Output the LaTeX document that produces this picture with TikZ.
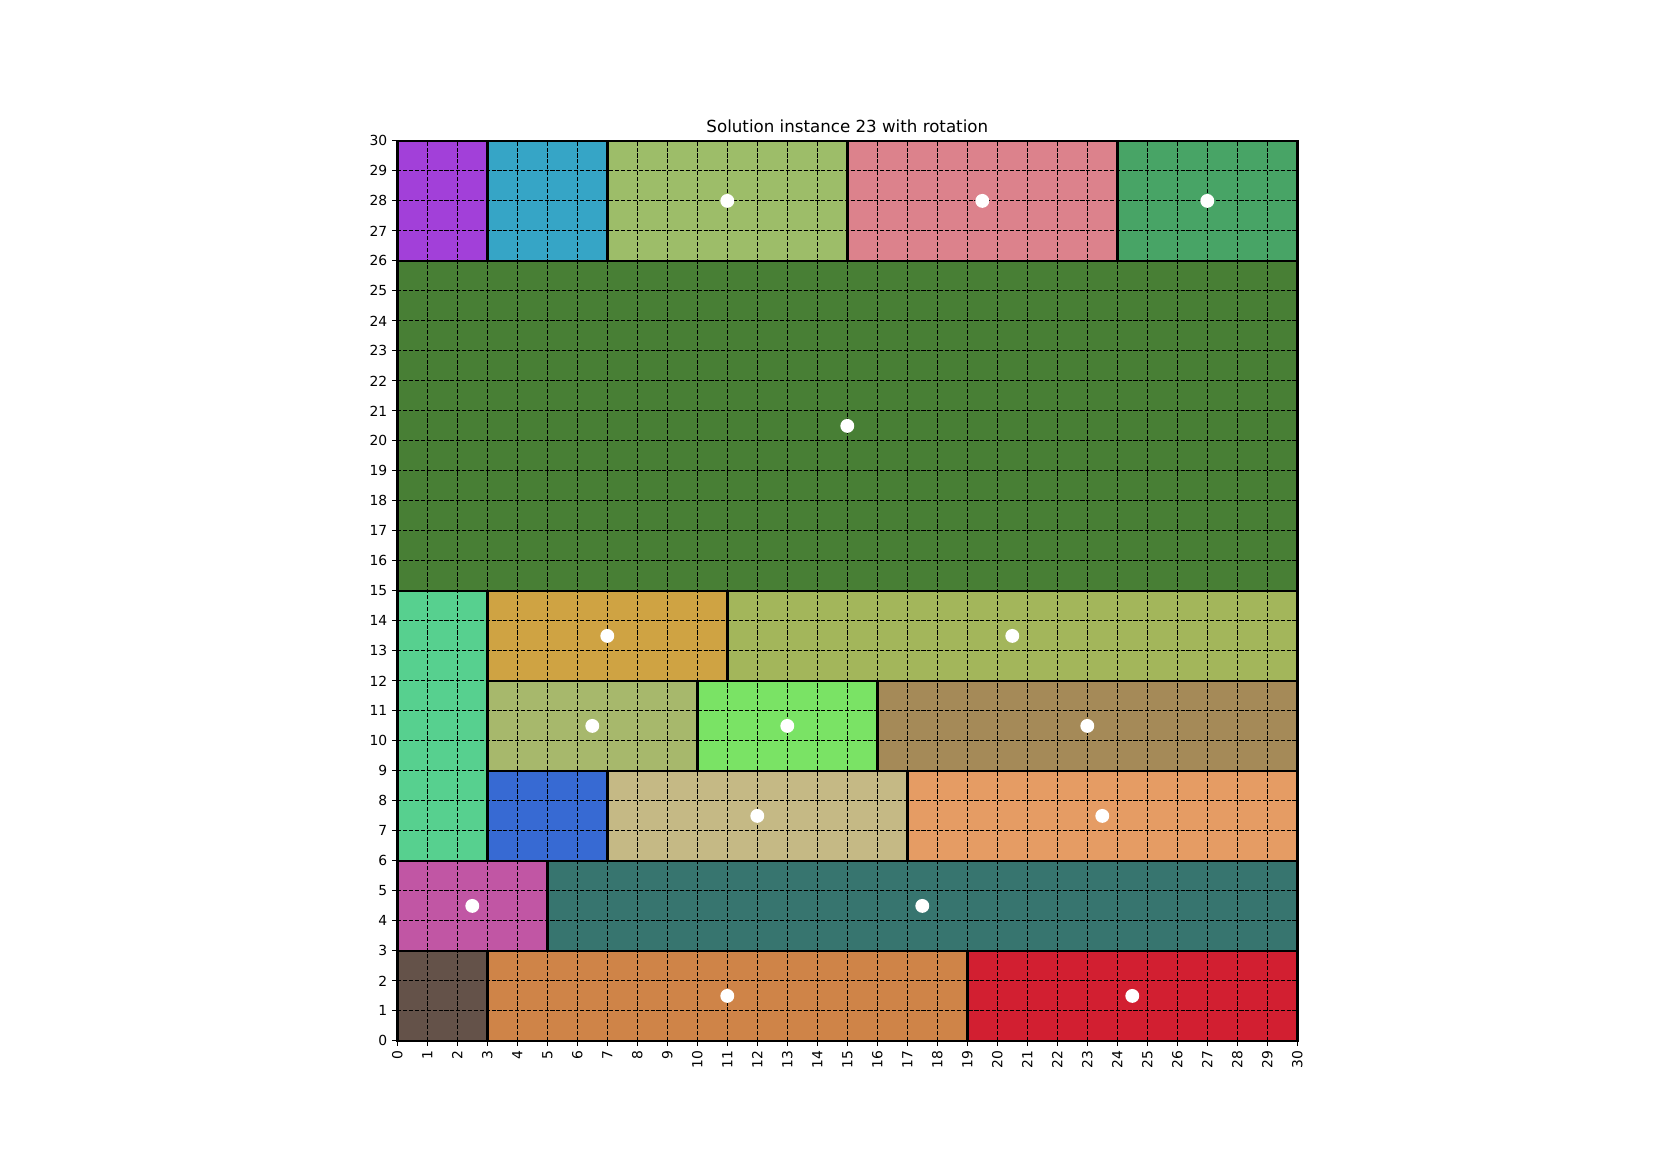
\documentclass[tikz,border=0pt]{standalone}
\usepackage{fontspec}
\setmainfont{DejaVu Sans}
\definecolor{cA}{HTML}{A240D9}
\definecolor{cB}{HTML}{36A5C6}
\definecolor{cC}{HTML}{9DBD69}
\definecolor{cD}{HTML}{DC828C}
\definecolor{cE}{HTML}{48A466}
\definecolor{cF}{HTML}{487F35}
\definecolor{cG}{HTML}{57D08F}
\definecolor{cH}{HTML}{CFA343}
\definecolor{cI}{HTML}{A3B65B}
\definecolor{cJ}{HTML}{A7B86C}
\definecolor{cK}{HTML}{7AE365}
\definecolor{cL}{HTML}{A58A58}
\definecolor{cM}{HTML}{376AD3}
\definecolor{cN}{HTML}{C5B985}
\definecolor{cO}{HTML}{E59C64}
\definecolor{cP}{HTML}{C156A4}
\definecolor{cQ}{HTML}{37756F}
\definecolor{cR}{HTML}{645249}
\definecolor{cS}{HTML}{CF8448}
\definecolor{cT}{HTML}{D21F31}
\begin{document}
\begin{tikzpicture}[x=21.6pt,y=21.6pt,
  box/.style={draw=black,line width=2pt},
  gridline/.style={black,line width=0.8pt,dash pattern=on 2.96pt off 1.28pt},
  centerdot/.style={circle,fill=white,draw=none,inner sep=0pt,minimum size=10pt},
  tickmark/.style={black,line width=0.8pt},
  lab/.style={font=\fontsize{10}{12}\selectfont,inner sep=0pt},
  ttl/.style={font=\fontsize{12}{14}\selectfont,inner sep=0pt}]
\useasboundingbox (-13.243,-4.27) rectangle (41.857,34.697);
% fills
\foreach \x/\y/\w/\h/\c in {0/26/3/4/cA,3/26/4/4/cB,7/26/8/4/cC,15/26/9/4/cD,24/26/6/4/cE,
  0/15/30/11/cF,0/6/3/9/cG,3/12/8/3/cH,11/12/19/3/cI,3/9/7/3/cJ,10/9/6/3/cK,16/9/14/3/cL,
  3/6/4/3/cM,7/6/10/3/cN,17/6/13/3/cO,0/3/5/3/cP,5/3/25/3/cQ,0/0/3/3/cR,3/0/16/3/cS,19/0/11/3/cT}
  {\fill[\c] (\x,\y) rectangle ++(\w,\h);}
% grid
\foreach \i in {0,...,30} {
  \draw[gridline] (\i,0) -- (\i,30);
  \draw[gridline] (0,\i) -- (30,\i);
}
% borders
\foreach \x/\y/\w/\h in {0/26/3/4,3/26/4/4,7/26/8/4,15/26/9/4,24/26/6/4,
  0/15/30/11,0/6/3/9,3/12/8/3,11/12/19/3,3/9/7/3,10/9/6/3,16/9/14/3,
  3/6/4/3,7/6/10/3,17/6/13/3,0/3/5/3,5/3/25/3,0/0/3/3,3/0/16/3,19/0/11/3}
  {\draw[box] (\x,\y) rectangle ++(\w,\h);}
% ticks and labels
\foreach \i in {0,...,30} {
  \draw[tickmark] (\i,0) -- ++(0,-3.5pt);
  \draw[tickmark] (0,\i) -- ++(-3.5pt,0);
  \node[lab,rotate=90,anchor=east] (xl\i) at (\i,-0.324) {\i};
  \node[lab,anchor=east] (yl\i) at (-0.324,\i) {\i};
}
% centre dots
\foreach \px/\py [count=\k] in {11/28,19.5/28,27/28,15/20.5,7/13.5,20.5/13.5,6.5/10.5,13/10.5,23/10.5,
  12/7.5,23.5/7.5,2.5/4.5,17.5/4.5,11/1.5,24.5/1.5}
  {\node[centerdot] (d\k) at (\px,\py) {};}
\node[ttl,anchor=base] (title) at (15,30.29) {Solution instance 23 with rotation};
\end{tikzpicture}
\end{document}
